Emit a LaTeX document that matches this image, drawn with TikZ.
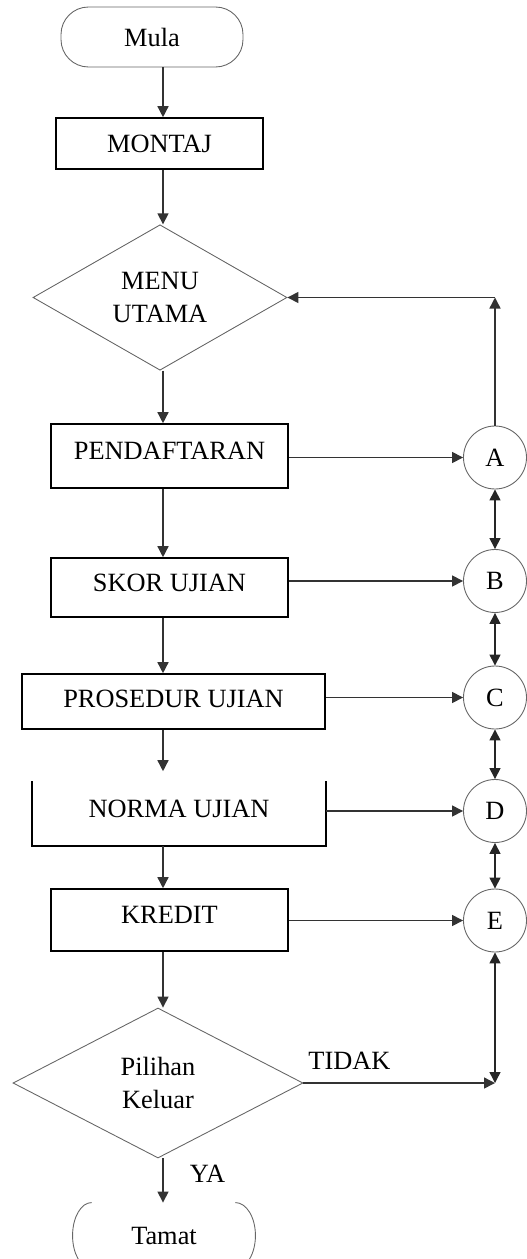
\documentclass[tikz,border=0pt]{standalone}
\usepackage{fontspec}
\setmainfont{Liberation Serif}
\usepackage{tikz}
\usetikzlibrary{shapes.geometric, positioning, arrows.meta}

\tikzset{
  garistebal/.style={draw=black, line width=0.9pt},
  garistipis/.style={draw=black!60, line width=0.5pt},
  prosesbox/.style={rectangle, garistebal, text depth=0.2cm, inner sep=2pt},
  terminal/.style={rectangle, rounded corners=0.55cm, garistipis, minimum width=3.64cm, minimum height=1.2cm},
  keputusan/.style={diamond, garistipis, inner sep=0pt, align=center},
  penyambung/.style={circle, garistipis, minimum size=1.26cm, inner sep=0pt},
  anak/.style={-{Triangle[length=0.22cm,width=0.22cm]}, line width=0.8pt, black!80},
  duaanak/.style={{Triangle[length=0.22cm,width=0.22cm]}-{Triangle[length=0.22cm,width=0.22cm]}, line width=0.8pt, black!85},
  label/.style={text=black},
}

\begin{document}
\begin{tikzpicture} \fontsize{15}{19}\selectfont
    \useasboundingbox (0,0) rectangle (10.54,-25.18);          % page size
    \coordinate (spine) at (3.26,0);                            % main flow line
    % main column
    \node [terminal] (mula) at (3.04,-0.74) {Mula};
    \node [prosesbox, minimum width=4.14cm, minimum height=1.02cm, text depth=0pt] (montaj) at (3.19,-2.87) {MONTAJ};
    \node [keputusan, minimum width=5.08cm, minimum height=2.82cm] (menu) at (3.2,-5.95) {MENU\\UTAMA};
    \node [prosesbox, minimum width=4.74cm, minimum height=1.28cm] (daftar) at (3.39,-9.12) {PENDAFTARAN};
    \node [prosesbox, minimum width=4.74cm, minimum height=1.18cm] (skor) at (3.39,-11.75) {SKOR UJIAN};
    \node [prosesbox, minimum width=6.06cm, minimum height=1.1cm, text depth=0.1cm] (prosedur) at (3.47,-14.03) {PROSEDUR UJIAN};
    \node [prosesbox, draw=none, minimum width=5.84cm, minimum height=1.26cm] (norma) at (3.58,-16.27) {NORMA UJIAN};
    \node [prosesbox, minimum width=4.74cm, minimum height=1.24cm] (kredit) at (3.39,-18.4) {KREDIT};
    \node [keputusan, minimum width=5.8cm, minimum height=3.0cm] (pilihan) at (3.16,-21.66) {Pilihan\\Keluar};
    \node [terminal, draw=none, minimum height=1.32cm] (tamat) at (3.28,-24.72) {Tamat};
    % open box and end shape
    \draw [garistebal] (norma.north west) -- (norma.south west) -- (norma.south east) -- (norma.north east);
    \draw [garistipis] ([xshift=0.38cm]tamat.north west) arc [start angle=90, end angle=270, x radius=0.38cm, y radius=0.66cm];
    \draw [garistipis] ([xshift=-0.4cm]tamat.north east) arc [start angle=90, end angle=-90, x radius=0.4cm, y radius=0.66cm];
    % connectors A to E
    \node [penyambung] (A) at (9.9,-9.15) {A};
    \node [penyambung] (B) at (9.9,-11.62) {B};
    \node [penyambung] (C) at (9.9,-13.95) {C};
    \node [penyambung] (D) at (9.9,-16.22) {D};
    \node [penyambung] (E) at (9.9,-18.41) {E};
    % flow down
    \draw [anak] (mula.south -| spine) -- (montaj.north -| spine);
    \draw [anak] (montaj.south -| spine) -- (menu.north -| spine);
    \draw [anak] (menu.south -| spine) -- (daftar.north -| spine);
    \draw [anak] (daftar.south -| spine) -- (skor.north -| spine);
    \draw [anak] (skor.south -| spine) -- (prosedur.north -| spine);
    \draw [anak, shorten >=0.2cm] (prosedur.south -| spine) -- (norma.north -| spine);
    \draw [anak] (norma.south -| spine) -- (kredit.north -| spine);
    \draw [anak] (kredit.south -| spine) -- (pilihan.north -| spine);
    \draw [anak] (pilihan.south -| spine) -- node [label, right=0.35cm, pos=0.35] {YA} (tamat.north -| spine);
    % to the connectors
    \draw [anak] (daftar.east |- A) -- (A);
    \draw [anak] (skor.east |- B) -- (B);
    \draw [anak] (prosedur.east |- C) -- (C);
    \draw [anak] (norma.east |- D) -- (D);
    \draw [anak] (kredit.east |- E) -- (E);
    \foreach \a/\b in {A/B, B/C, C/D, D/E}
        \draw [duaanak] (\a) -- (\b);
    % back to menu
    \coordinate (balik) at (A.north |- menu.east);
    \draw [anak] (A) -- (balik);
    \draw [anak] (balik) -- (menu.east);
    % not leaving
    \coordinate (tidak) at (E.south |- pilihan.east);
    \draw [anak] (pilihan.east) -- node [label, above=2pt, pos=0.24] {TIDAK} (tidak);
    \draw [duaanak] (tidak) -- (E);
\end{tikzpicture}
\end{document}
